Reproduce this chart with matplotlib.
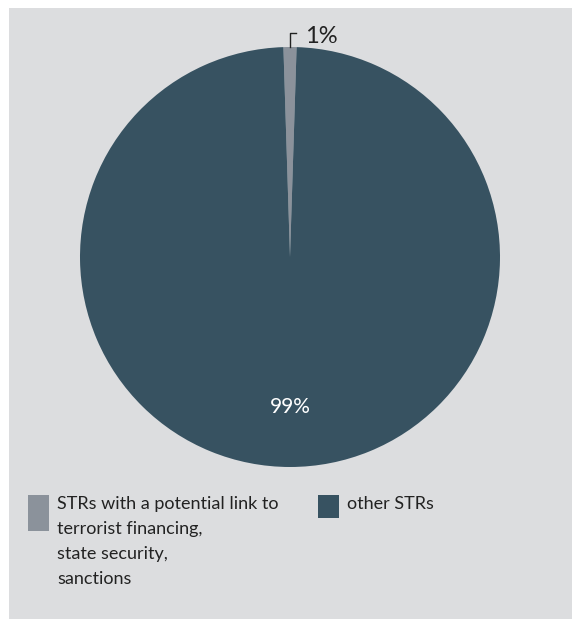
import matplotlib.pyplot as plt
from matplotlib.patches import Rectangle
import numpy as np

plt.rcParams['font.family'] = ['Lato', 'DejaVu Sans']

labels = ['STRs with a potential link to\nterrorist financing,\nstate security,\nsanctions', 'other STRs']
shares = [1, 99]
colors = ['#8b929b', '#375261']

W, H = 572, 619
fig = plt.figure(figsize=(W / 100, H / 100), dpi=100)
fig.patch.set_facecolor('white')

def fx(px):
    return px / W

def fy(py):
    return 1 - py / H

# grey panel behind everything
fig.patches.append(Rectangle((fx(9), 0), 1 - fx(9), fy(8), transform=fig.transFigure,
                             facecolor='#dcdddf', edgecolor='none', zorder=-10))

ax = fig.add_axes([fx(80), fy(467), 420 / W, 420 / H])
ax.set_zorder(1)
ax.set_aspect('equal')
wedges, texts, autotexts = ax.pie(shares, colors=colors, startangle=90 - 1.8,
                                  radius=1, autopct='%d%%', pctdistance=0.714,
                                  wedgeprops=dict(linewidth=0),
                                  textprops=dict(color='white', fontsize=15))
ax.set_xlim(-1, 1)
ax.set_ylim(-1, 1)
ax.axis('off')

# small slice label sits above the pie with a bracket leader
w = wedges[0]
mid = np.deg2rad((w.theta1 + w.theta2) / 2)
x0, y0 = np.cos(mid), np.sin(mid)
ax.plot([x0, x0, x0 + 0.03], [y0, y0 + 0.065, y0 + 0.065], color='#222222',
        lw=1, clip_on=False)
autotexts[0].set_position((x0 + 0.07, y0 + 0.052))
autotexts[0].set_ha('left')
autotexts[0].set_va('center')
autotexts[0].set_color('#222222')
autotexts[0].set_fontsize(17)

# legend
fig.patches.append(Rectangle((fx(28), fy(531)), 21 / W, 36 / H, transform=fig.transFigure,
                             facecolor=colors[0], edgecolor='none'))
fig.patches.append(Rectangle((fx(318), fy(518)), 21 / W, 23 / H, transform=fig.transFigure,
                             facecolor=colors[1], edgecolor='none'))
fig.text(fx(57), fy(496), labels[0], ha='left', va='top', fontsize=13,
         color='#222222', linespacing=1.7)
fig.text(fx(347), fy(496), labels[1], ha='left', va='top', fontsize=13,
         color='#222222')

fig.savefig('out.png', dpi=100)
